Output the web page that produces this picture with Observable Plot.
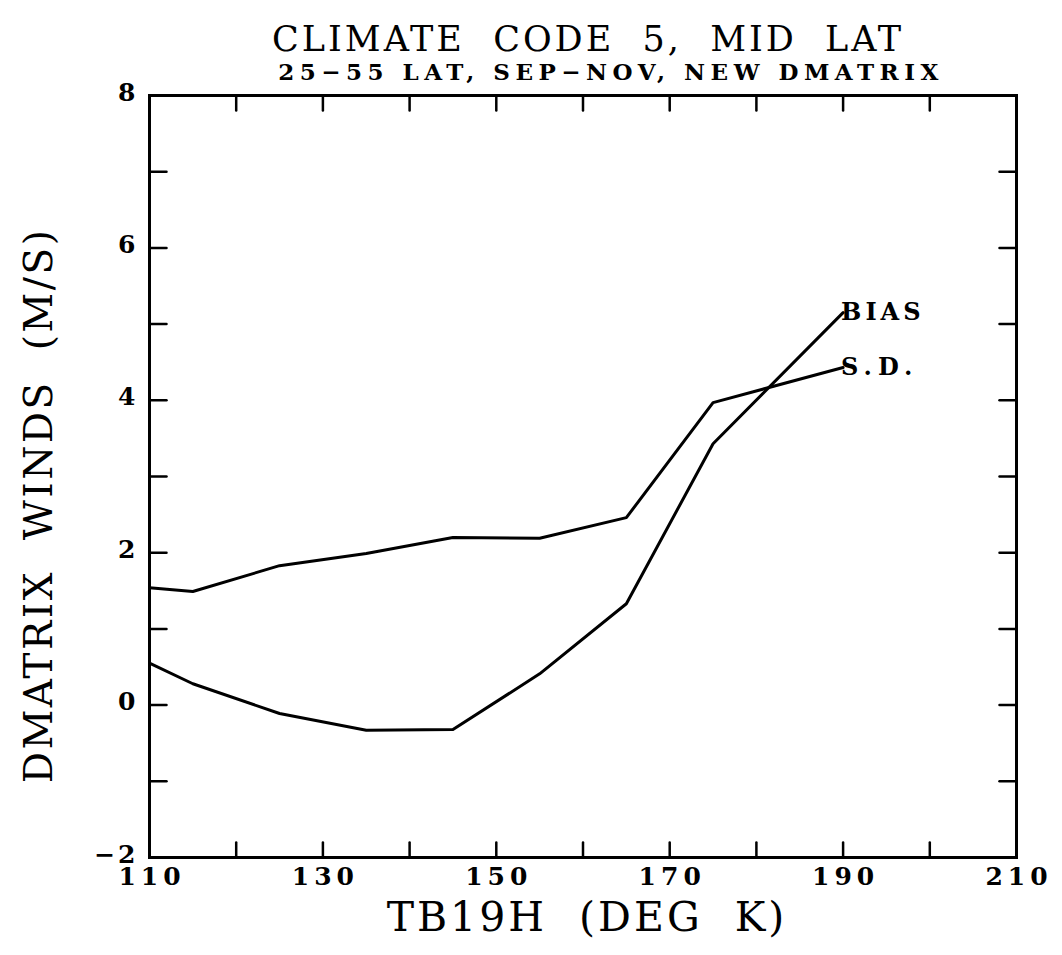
<!DOCTYPE html>
<html><head><meta charset="utf-8">
<script src="https://cdn.jsdelivr.net/npm/d3@7"></script>
<script src="https://cdn.jsdelivr.net/npm/@observablehq/plot@0.6"></script>
<style>
body{margin:0;background:#fff}
svg{display:block}
svg text{white-space:pre}
</style>
</head><body><div id="chart"></div>
<script>
// ---- data ----
const title = "CLIMATE  CODE  5,  MID  LAT";
const subtitle = "25−55 LAT, SEP−NOV, NEW DMATRIX";
const xLabel = "TB19H  (DEG  K)";
const yLabel = "DMATRIX  WINDS  (M/S)";
const tb   = [110, 115, 125, 135, 145, 155, 165, 175, 190];
const sd   = [1.54, 1.49, 1.83, 1.99, 2.20, 2.19, 2.46, 3.97, 4.43];
const bias = [0.55, 0.28, -0.11, -0.33, -0.32, 0.41, 1.33, 3.43, 5.15];
const seriesNames = ["BIAS", "S.D."];
const xTickLabels = [110, 130, 150, 170, 190, 210];
const xMinorTicks = [120, 130, 140, 150, 160, 170, 180, 190, 200];
const yTickLabels = [-2, 0, 2, 4, 6, 8];
const yMinorTicks = [-1, 0, 1, 2, 3, 4, 5, 6, 7];

const rows = [];
tb.forEach((t, i) => {
  rows.push({x: t, y: bias[i], s: seriesNames[0]});
  rows.push({x: t, y: sd[i], s: seriesNames[1]});
});
const ends = [
  {x: tb[tb.length - 1], y: bias[bias.length - 1], s: seriesNames[0]},
  {x: tb[tb.length - 1], y: sd[sd.length - 1], s: seriesNames[1]}
];

const serif = "DejaVu Serif";
const tickShape = {draw(ctx, l) { ctx.moveTo(0, 0); ctx.lineTo(0, -l); }};

const plot = Plot.plot({
  width: 1062,
  height: 955,
  marginLeft: 149,
  marginRight: 46,
  marginTop: 95,
  marginBottom: 98,
  style: {fontFamily: serif, color: "#000", background: "#fff"},
  x: {domain: [110, 210]},
  y: {domain: [-2, 8]},
  marks: [
    // inward ticks
    Plot.vector(xMinorTicks, {x: d => d, y: -2, length: 15, rotate: 0, anchor: "start", shape: tickShape, strokeWidth: 2.5, stroke: "#000"}),
    Plot.vector(xMinorTicks, {x: d => d, y: 8, length: 15, rotate: 180, anchor: "start", shape: tickShape, strokeWidth: 2.5, stroke: "#000"}),
    Plot.vector(yMinorTicks, {x: 110, y: d => d, length: 17, rotate: 90, anchor: "start", shape: tickShape, strokeWidth: 2.5, stroke: "#000"}),
    Plot.vector(yMinorTicks, {x: 210, y: d => d, length: 17, rotate: 270, anchor: "start", shape: tickShape, strokeWidth: 2.5, stroke: "#000"}),
    Plot.frame({stroke: "#000", strokeWidth: 3}),
    // axes labels
    Plot.axisX(xTickLabels, {anchor: "bottom", tickSize: 0, tickPadding: 10, fontSize: 25, fontWeight: "bold", fontFamily: serif, label: null, tickFormat: "d", dx: 2.5}),
    Plot.axisY(yTickLabels, {anchor: "left", tickSize: 0, tickPadding: 11, fontSize: 25, fontWeight: "bold", fontFamily: serif, label: null, dy: -3, tickFormat: d => d < 0 ? "−" + Math.abs(d) : String(d)}),
    // data lines
    Plot.line(rows, {x: "x", y: "y", z: "s", stroke: "#000", strokeWidth: 3, curve: "linear"}),
    Plot.text(ends, {x: "x", y: "y", text: "s", textAnchor: "start", dx: -2, fontSize: 24, fontWeight: "bold", fontFamily: serif}),
    // titles
    Plot.text([title], {frameAnchor: "top", dy: -56, fontSize: 35, fontFamily: serif, lineAnchor: "middle", dx: 5}),
    Plot.text([subtitle], {frameAnchor: "top", dy: -23, fontSize: 23, fontWeight: "bold", fontFamily: serif, lineAnchor: "middle", dx: 28}),
    Plot.text([xLabel], {frameAnchor: "bottom", dy: 60, fontSize: 41, fontFamily: serif, lineAnchor: "middle", dx: 4}),
    Plot.text([yLabel], {frameAnchor: "left", dx: -110, dy: 29, rotate: -90, fontSize: 39, fontFamily: serif, lineAnchor: "middle", textAnchor: "middle"})
  ]
});
document.getElementById("chart").appendChild(plot);

// letter spacing to mimic the wide plotter lettering
const spacing = new Map([[title, 3], [subtitle, 5.5], [xLabel, 3], [yLabel, 2.5], ["BIAS", 4], ["S.D.", 6]]);
d3.select(plot).selectAll("text").each(function () {
  const t = this.textContent;
  if (spacing.has(t)) this.setAttribute("letter-spacing", spacing.get(t));
});
d3.select(plot).selectAll('g[aria-label="x-axis tick label"] text').attr("letter-spacing", 5);
d3.select(plot).selectAll('g[aria-label="y-axis tick label"] text').attr("letter-spacing", 3);
</script>
</body></html>
